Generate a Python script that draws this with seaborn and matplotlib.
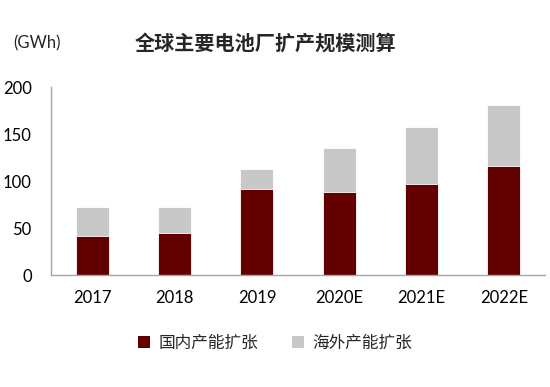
import matplotlib
matplotlib.use("Agg")
import matplotlib.pyplot as plt
import seaborn as sns
import pandas as pd
import numpy as np
from matplotlib.patches import Patch
from matplotlib.ticker import FixedLocator

years = ["2017", "2018", "2019", "2020E", "2021E", "2022E"]
domestic = [42, 45, 91.5, 88, 97, 116]
overseas = [30, 27, 21, 47, 60, 64.5]
title = "全球主要电池厂扩产规模测算"
unit = "(GWh)"
legend_labels = ["国内产能扩张", "海外产能扩张"]

sns.set_theme(style="white")
plt.rcParams['font.family'] = ['Lato', 'Noto Sans CJK SC', 'DejaVu Sans']

df = pd.DataFrame({"year": years, "domestic": domestic,
                   "total": np.array(domestic) + np.array(overseas)})

fig = plt.figure(figsize=(5.5, 3.87), dpi=100)
ax = fig.add_axes([0.093, 0.2894, 0.898, 0.4856])

c_dom = "#620000"
c_ovs = "#C8C8C8"
sns.barplot(data=df, x="year", y="total", color=c_ovs, width=0.4,
            saturation=1, ax=ax, edgecolor="white", linewidth=0.6)
sns.barplot(data=df, x="year", y="domestic", color=c_dom, width=0.4,
            saturation=1, ax=ax, edgecolor="white", linewidth=0.6)

ax.set_ylim(0, 200)
ax.set_yticks([0, 50, 100, 150, 200])
ax.set_xlim(-0.5, 5.5)
ax.set_xlabel("")
ax.set_ylabel("")
for s in ["top", "right"]:
    ax.spines[s].set_visible(False)
for s in ["left", "bottom"]:
    ax.spines[s].set_color("#A6A6A6")
    ax.spines[s].set_linewidth(1)
ax.tick_params(axis="y", length=0, labelsize=12, pad=14, colors="black")
ax.tick_params(axis="x", which="major", length=0, labelsize=12, pad=11, colors="black")
ax.xaxis.set_minor_locator(FixedLocator(np.arange(-0.5, 6, 1)))
ax.tick_params(axis="x", which="minor", length=5, direction="out", color="#A6A6A6", width=1)
ax.grid(False)

fig.text(0.482, 0.888, title, ha="center", va="center", fontsize=14.5,
         fontweight="bold", family=['Noto Sans CJK SC'])
fig.text(0.025, 0.888, unit, ha="left", va="center", fontsize=12,
         family=['Lato', 'DejaVu Sans'])

handles = [Patch(facecolor=c_dom, edgecolor="none"), Patch(facecolor=c_ovs, edgecolor="none")]
fig.legend(handles, legend_labels, loc="center", bbox_to_anchor=(0.5, 0.113), ncol=2,
           frameon=False, prop={"family": ["Noto Sans CJK SC"], "size": 12},
           handlelength=0.75, handleheight=0.75, handletextpad=0.5, columnspacing=2.0)

fig.savefig("out.png", dpi=100)
